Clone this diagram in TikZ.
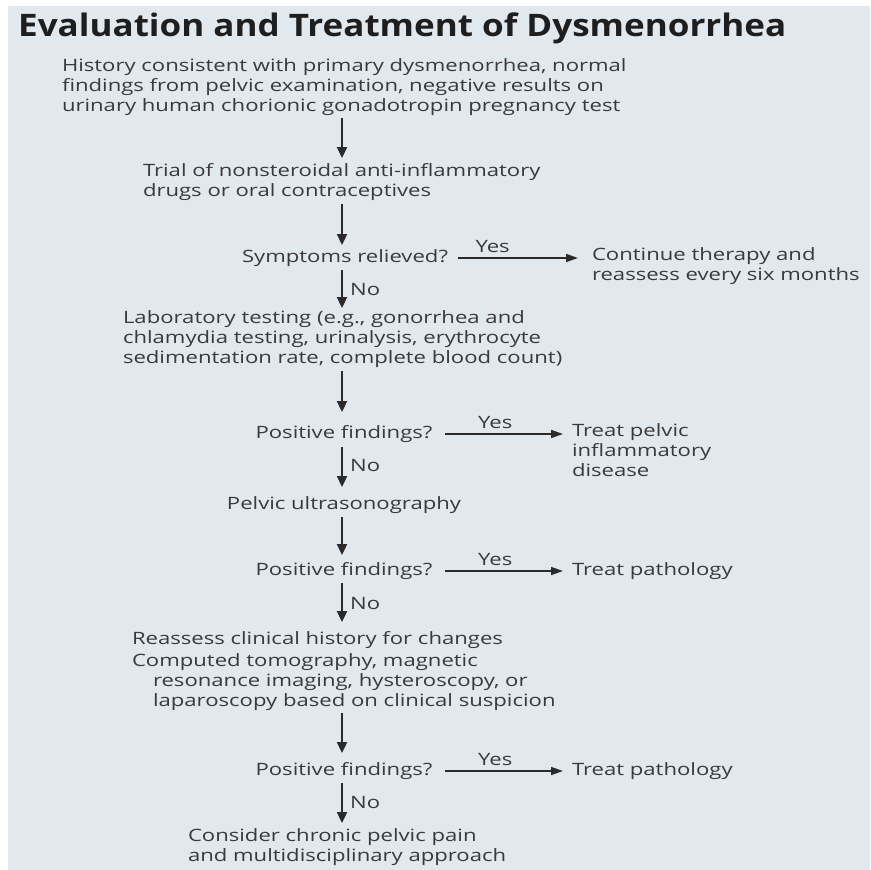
\documentclass[tikz,border=0pt]{standalone}
\usepackage{fontspec}
\setmainfont{Open Sans}[FakeStretch=1.3]
\newfontfamily\titlefont{Open Sans}[FakeStretch=1.13]
\usetikzlibrary{arrows.meta}
\definecolor{panel}{HTML}{E1E8EE}
\definecolor{ink}{HTML}{3A3A3A}
\definecolor{inkdark}{HTML}{1E1E1E}
\definecolor{arrowcol}{HTML}{2A2A2A}

\begin{document}
\begin{tikzpicture}[x=1pt,y=-1pt,
  box/.style={inner sep=0pt, outer sep=0pt, text=ink, align=left,
    font=\fontsize{17}{20}\selectfont,
    execute at begin node=\strut, execute at end node=\strut},
  lbox/.style={box, anchor=north west, yshift=14pt},
  cbox/.style={box, anchor=north, yshift=14pt, align=center},
  down/.style={draw=arrowcol, line width=2.3pt, -{Triangle[length=11pt,width=10pt]}},
  side/.style={draw=arrowcol, line width=1.6pt, -{Triangle[length=12pt,width=8pt]}},
  lab/.style={text=ink, font=\fontsize{17}{20}\selectfont, inner sep=0pt}
]
\useasboundingbox (0,0) rectangle (870,870);
\fill[panel] (8,6) rectangle (870,870);

% title
\node[font=\titlefont\fontsize{31}{34}\selectfont\bfseries, text=inkdark,
  anchor=base west, inner sep=0pt] (title) at (18,36)
  {Evaluation and Treatment of Dysmenorrhea};

% main column
\coordinate (spine) at (342,0);
\node[lbox] (hist) at (62,73) {History consistent with primary dysmenorrhea, normal\\findings from pelvic examination, negative results on\\urinary human chorionic gonadotropin pregnancy test};
\node[lbox] (nsaid) at (143,177) {Trial of nonsteroidal anti-inflammatory\\drugs or oral contraceptives};
\node[cbox] (relief) at (345,262) {Symptoms relieved?};
\node[lbox] (cont) at (592,262) {Continue therapy and\\reassess every six months};
\node[lbox] (lab) at (123,325) {Laboratory testing (e.g., gonorrhea and\\chlamydia testing, urinalysis, erythrocyte\\sedimentation rate, complete blood count)};
\node[cbox] (pos1) at (344,438) {Positive findings?};
\node[lbox] (pid) at (572,438) {Treat pelvic\\inflammatory\\disease};
\node[cbox] (us) at (344,509) {Pelvic ultrasonography};
\node[cbox] (pos2) at (344,575) {Positive findings?};
\node[lbox] (path1) at (572,575) {Treat pathology};
\node[lbox] (reas) at (132,644) {Reassess clinical history for changes};
\node[lbox] (imag) at (132,668) {Computed tomography, magnetic\\\hspace*{21pt}resonance imaging, hysteroscopy, or\\\hspace*{21pt}laparoscopy based on clinical suspicion};
\node[cbox] (pos3) at (344,775) {Positive findings?};
\node[lbox] (path2) at (572,775) {Treat pathology};
\node[lbox] (pain) at (188,843) {Consider chronic pelvic pain\\and multidisciplinary approach};

% downward flow
\draw[down, shorten >=5pt] (hist.south -| spine) -- (nsaid.north -| spine);
\draw[down, shorten <=2pt, shorten >=3pt] (nsaid.south -| spine) -- (relief.north -| spine);
\draw[down, shorten <=2pt, shorten >=3pt] (relief.south -| spine) -- (lab.north -| spine)
  node[lab, pos=0.5, anchor=west, xshift=7pt] {No};
\draw[down, shorten <=1pt, shorten >=12pt] (lab.south -| spine) -- (pos1.north -| spine);
\draw[down, shorten <=3pt, shorten >=8pt] (pos1.south -| spine) -- (us.north -| spine)
  node[lab, pos=0.42, anchor=west, xshift=7pt] {No};
\draw[down, shorten <=2pt, shorten >=6pt] (us.south -| spine) -- (pos2.north -| spine);
\draw[down, shorten <=2pt, shorten >=8pt] (pos2.south -| spine) -- (reas.north -| spine)
  node[lab, pos=0.45, anchor=west, xshift=7pt] {No};
\draw[down, shorten >=8pt] (imag.south -| spine) -- (pos3.north -| spine);
\draw[down, shorten <=2pt, shorten >=6pt] (pos3.south -| spine) -- (pain.north -| spine)
  node[lab, pos=0.45, anchor=west, xshift=7pt] {No};

% yes branches
\draw[side, shorten <=10pt, shorten >=14pt] (relief.east) -- (relief.east -| cont.west)
  node[lab, pos=0.31, anchor=south, yshift=4.5pt] {Yes};
\draw[side, shorten <=13pt, shorten >=9pt] (pos1.east) -- (pos1.east -| pid.west)
  node[lab, pos=0.45, anchor=south, yshift=4.5pt] {Yes};
\draw[side, shorten <=13pt, shorten >=9pt] (pos2.east) -- (pos2.east -| path1.west)
  node[lab, pos=0.45, anchor=south, yshift=4.5pt] {Yes};
\draw[side, shorten <=13pt, shorten >=9pt] (pos3.east) -- (pos3.east -| path2.west)
  node[lab, pos=0.45, anchor=south, yshift=4.5pt] {Yes};
\end{tikzpicture}
\end{document}
